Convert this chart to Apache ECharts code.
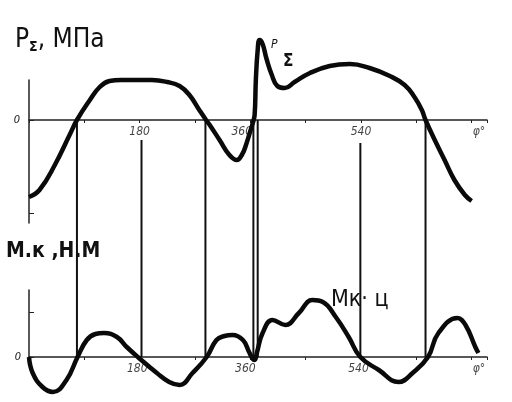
<!DOCTYPE html>
<html>
<head>
<meta charset="utf-8">
<script src="https://cdn.jsdelivr.net/npm/echarts@6/dist/echarts.min.js"></script>
<style>html,body{margin:0;padding:0;background:#fff}#c{width:512px;height:402px}</style>
</head>
<body>
<div id="c"></div>
<script>
// crank angle φ (deg) and total pressure P_Σ (arbitrary units, 0 = axis)
const phiP = [0,17,42,66,78,99,115,131,150,175,200,225,245,261,277,288,294,310,326,338,347,354,359,364,367,369,372,375,380,386,395,404,416,432,457,489,522,554,587,611,627,639,645,660,676,692,709,720];
const valP = [-77,-70,-45,-15,0,20,33,39,40,40,40,38,34,25,10,0,-5,-20,-35,-40,-34,-23,-13,-3,5,40,70,80,76,62,45,34,32,38,47,54,56,52,44,35,23,10,0,-20,-40,-60,-75,-81];
// crank angle φ (deg) and cylinder torque Мк.ц (arbitrary units)
const phiM = [0,6,22,39,61,79,94,108,122,143,159,177,208,228,245,266,289,305,318,331,348,358,364,367,371,380,396,417,439,461,478,499,520,539,569,601,624,649,666,697,710,726,731];
const valM = [0,-16,-30,-35,-23,0,17,23,24,20,10,0,-16,-25,-28,-16,0,17,21,22,17,5,-2,-3,5,24,37,32,44,57,55,40,20,0,-13,-25,-16,0,24,39,32,10,4];
// vertical projection lines (φ, top end in torque-axis units)
const connPhi = [78,183,287,365,372,539,645];
const connTop = [237,217,237,237,237,214,237];
// tick labels on the φ axes
const tickPosTop = [180,346,540,732];
const tickTxtTop = ['180','360','540','φ°'];
const tickPosBot = [176,352,536,732];
const tickTxtBot = ['180','360','540','φ°'];

const font = "'Liberation Sans Narrow','DejaVu Sans Condensed',sans-serif";
const chart = echarts.init(document.getElementById('c'), null, {renderer:'canvas'});

function zip(a,b){return a.map((v,i)=>[v,b[i]]);}

const connSeries = connPhi.map((p,i)=>({
  type:'line', xAxisIndex:1, yAxisIndex:1, clip:false, silent:true,
  symbol:'none', data:[[p,0],[p,connTop[i]]],
  lineStyle:{color:'#111',width:2}, z:1
}));

function labelSeries(gi, pos, txt, dist){
  return {
    type:'scatter', xAxisIndex:gi, yAxisIndex:gi, clip:false, silent:true, z:5,
    symbolSize:0, data:pos.map((p,i)=>({value:[p,0], name:txt[i]})),
    label:{show:true, position:'bottom', distance:dist, formatter:p=>p.name,
      fontFamily:font, fontStyle:'italic', fontSize:12, color:'#111'}
  };
}

function xAxisCfg(gi){
  return {
    type:'value', gridIndex:gi, min:0, max:745, interval:90,
    axisLine:{onZero:true, lineStyle:{color:'#222',width:1.5}},
    axisTick:{show:true, length:3, lineStyle:{color:'#222',width:1}},
    splitLine:{show:false},
    axisLabel:{show:false}
  };
}

chart.setOption({
  animation:false,
  backgroundColor:'#fff',
  grid:[
    {left:29, width:458, top:80, height:143},
    {left:29, width:458, top:290, height:72}
  ],
  xAxis:[ xAxisCfg(0), xAxisCfg(1) ],
  yAxis:[
    {type:'value', gridIndex:0, min:-103, max:40,
     axisLine:{show:true, lineStyle:{color:'#222',width:1.5}},
     axisTick:{show:true, inside:true, length:5, customValues:[0,-93], lineStyle:{color:'#222'}},
     splitLine:{show:false},
     axisLabel:{customValues:[0], formatter:'0', fontFamily:font, fontStyle:'italic', fontSize:11, color:'#111', margin:9}},
    {type:'value', gridIndex:1, min:-5, max:67,
     axisLine:{show:true, lineStyle:{color:'#222',width:1.5}},
     axisTick:{show:true, inside:true, length:5, customValues:[0,45], lineStyle:{color:'#222'}},
     splitLine:{show:false},
     axisLabel:{customValues:[0], formatter:'0', fontFamily:font, fontStyle:'italic', fontSize:11, color:'#111', margin:8}}
  ],
  series:[
    {type:'line', name:'PΣ', xAxisIndex:0, yAxisIndex:0, clip:false, symbol:'none',
     smooth:0.45, data:zip(phiP,valP), lineStyle:{color:'#0a0a0a', width:4.5}, z:3},
    {type:'line', name:'Мк.ц', xAxisIndex:1, yAxisIndex:1, clip:false, symbol:'none',
     smooth:0.45, data:zip(phiM,valM), lineStyle:{color:'#0a0a0a', width:4.5}, z:3},
    labelSeries(0, tickPosTop, tickTxtTop, 6),
    labelSeries(1, tickPosBot, tickTxtBot, 6)
  ].concat(connSeries),
  graphic:[
    {type:'text', left:15, top:27, style:{
      text:'{a|P}{s|Σ}{a|, МПа}',
      rich:{a:{fontFamily:font, fontSize:26, fill:'#111'}, s:{fontFamily:font, fontSize:14, fontWeight:'bold', fill:'#111', padding:[14,0,0,0]}}
    }},
    {type:'text', left:6, top:241, style:{
      text:'М.к ,Н.М', fontFamily:font, fontSize:21, fontWeight:'bold', fill:'#111'
    }},
    {type:'text', left:271, top:39, style:{
      text:'P', fontFamily:font, fontSize:12, fontStyle:'italic', fill:'#111'
    }},
    {type:'text', left:283, top:53, style:{
      text:'Σ', fontFamily:font, fontSize:17, fontWeight:'bold', fill:'#111'
    }},
    {type:'text', left:331, top:289, style:{
      text:'Мк· ц', fontFamily:font, fontSize:23, fill:'#111'
    }}
  ]
});
</script>
</body>
</html>
